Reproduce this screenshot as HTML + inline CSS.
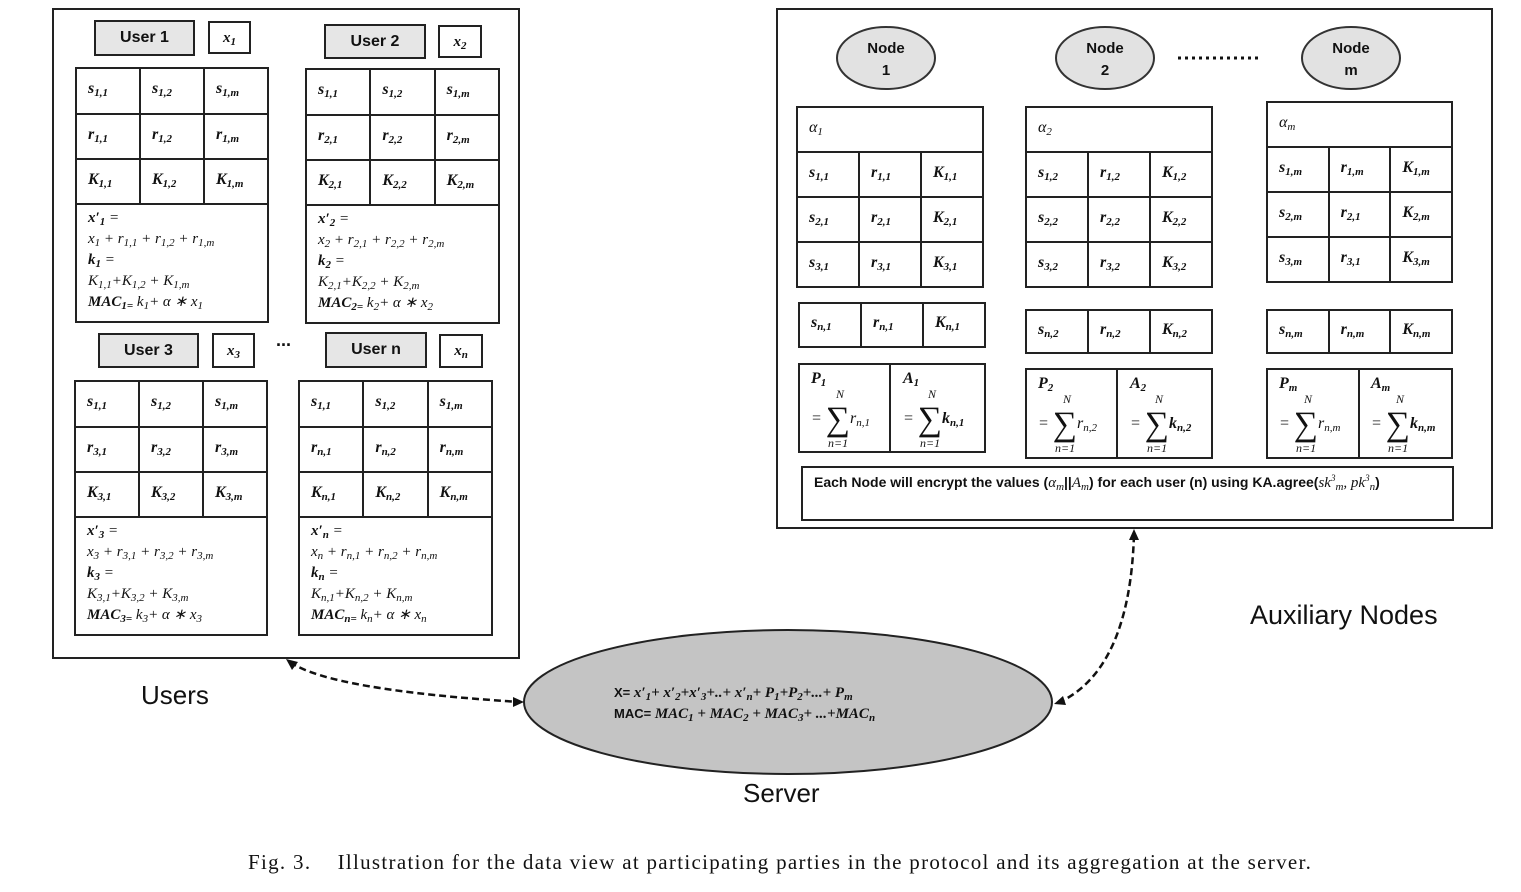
<!DOCTYPE html>
<html><head><meta charset="utf-8"><style>
body{margin:0;width:1521px;height:892px;background:#fff;position:relative;overflow:hidden;font-family:"Liberation Sans",sans-serif;color:#111}
.a{position:absolute;box-sizing:border-box}
.bx{position:absolute;box-sizing:border-box;border:2px solid #222}
.lab{background:#e6e6e6;font:bold 16px "Liberation Sans",sans-serif;text-align:center}
.xv{background:#fff;font:italic bold 15px "Liberation Serif",serif;text-align:center}
table{position:absolute;border-collapse:collapse;table-layout:fixed;background:#fff}
td{border:2px solid #222;padding:0 0 4px 11px;font:italic bold 16px "Liberation Serif",serif;text-align:left;vertical-align:middle;white-space:nowrap;overflow:hidden}
sub{font-size:11px;vertical-align:-3px;line-height:0}
sup{font-size:9px;line-height:0}
.f{font:italic 15px/21px "Liberation Serif",serif;vertical-align:top;padding:3px 0 0 11px}
.f b{font-weight:bold}
.n{font-weight:normal}
</style></head><body>

<!-- Left panel -->
<div class="bx" style="left:52px;top:8px;width:468px;height:651px"></div>
<div class="bx lab" style="left:94px;top:20px;width:101px;height:36px;line-height:32px">User 1</div>
<div class="bx xv" style="left:208px;top:21px;width:43px;height:33px;line-height:30px">x<sub>1</sub></div>
<div class="bx lab" style="left:324px;top:24px;width:102px;height:35px;line-height:31px">User 2</div>
<div class="bx xv" style="left:438px;top:25px;width:44px;height:33px;line-height:30px">x<sub>2</sub></div>

<table style="left:75px;top:67px;width:194px;height:254px">
<tr style="height:46px"><td>s<sub>1,1</sub></td><td>s<sub>1,2</sub></td><td>s<sub>1,m</sub></td></tr>
<tr style="height:45px"><td>r<sub>1,1</sub></td><td>r<sub>1,2</sub></td><td>r<sub>1,m</sub></td></tr>
<tr style="height:45px"><td>K<sub>1,1</sub></td><td>K<sub>1,2</sub></td><td>K<sub>1,m</sub></td></tr>
<tr style="height:118px"><td colspan="3" class="f"><b>x′<sub>1</sub></b> =<br>x<sub>1</sub> + r<sub>1,1</sub> + r<sub>1,2</sub> + r<sub>1,m</sub><br><b>k<sub>1</sub></b> =<br>K<sub>1,1</sub>+K<sub>1,2</sub> + K<sub>1,m</sub><br><b>MAC<sub>1=</sub></b> k<sub>1</sub>+ α ∗ x<sub>1</sub></td></tr>
</table>
<table style="left:305px;top:68px;width:195px;height:254px">
<tr style="height:46px"><td>s<sub>1,1</sub></td><td>s<sub>1,2</sub></td><td>s<sub>1,m</sub></td></tr>
<tr style="height:45px"><td>r<sub>2,1</sub></td><td>r<sub>2,2</sub></td><td>r<sub>2,m</sub></td></tr>
<tr style="height:45px"><td>K<sub>2,1</sub></td><td>K<sub>2,2</sub></td><td>K<sub>2,m</sub></td></tr>
<tr style="height:118px"><td colspan="3" class="f"><b>x′<sub>2</sub></b> =<br>x<sub>2</sub> + r<sub>2,1</sub> + r<sub>2,2</sub> + r<sub>2,m</sub><br><b>k<sub>2</sub></b> =<br>K<sub>2,1</sub>+K<sub>2,2</sub> + K<sub>2,m</sub><br><b>MAC<sub>2=</sub></b> k<sub>2</sub>+ α ∗ x<sub>2</sub></td></tr>
</table>

<div class="bx lab" style="left:98px;top:333px;width:101px;height:35px;line-height:31px">User 3</div>
<div class="bx xv" style="left:212px;top:333px;width:43px;height:35px;line-height:32px">x<sub>3</sub></div>
<div class="a" style="left:276px;top:330px;font:bold 18px 'Liberation Sans'">...</div>
<div class="bx lab" style="left:325px;top:332px;width:102px;height:36px;line-height:32px">User n</div>
<div class="bx xv" style="left:439px;top:334px;width:44px;height:34px;line-height:31px">x<sub>n</sub></div>

<table style="left:74px;top:380px;width:194px;height:254px">
<tr style="height:46px"><td>s<sub>1,1</sub></td><td>s<sub>1,2</sub></td><td>s<sub>1,m</sub></td></tr>
<tr style="height:45px"><td>r<sub>3,1</sub></td><td>r<sub>3,2</sub></td><td>r<sub>3,m</sub></td></tr>
<tr style="height:45px"><td>K<sub>3,1</sub></td><td>K<sub>3,2</sub></td><td>K<sub>3,m</sub></td></tr>
<tr style="height:118px"><td colspan="3" class="f"><b>x′<sub>3</sub></b> =<br>x<sub>3</sub> + r<sub>3,1</sub> + r<sub>3,2</sub> + r<sub>3,m</sub><br><b>k<sub>3</sub></b> =<br>K<sub>3,1</sub>+K<sub>3,2</sub> + K<sub>3,m</sub><br><b>MAC<sub>3=</sub></b> k<sub>3</sub>+ α ∗ x<sub>3</sub></td></tr>
</table>
<table style="left:298px;top:380px;width:195px;height:254px">
<tr style="height:46px"><td>s<sub>1,1</sub></td><td>s<sub>1,2</sub></td><td>s<sub>1,m</sub></td></tr>
<tr style="height:45px"><td>r<sub>n,1</sub></td><td>r<sub>n,2</sub></td><td>r<sub>n,m</sub></td></tr>
<tr style="height:45px"><td>K<sub>n,1</sub></td><td>K<sub>n,2</sub></td><td>K<sub>n,m</sub></td></tr>
<tr style="height:118px"><td colspan="3" class="f"><b>x′<sub>n</sub></b> =<br>x<sub>n</sub> + r<sub>n,1</sub> + r<sub>n,2</sub> + r<sub>n,m</sub><br><b>k<sub>n</sub></b> =<br>K<sub>n,1</sub>+K<sub>n,2</sub> + K<sub>n,m</sub><br><b>MAC<sub>n=</sub></b> k<sub>n</sub>+ α ∗ x<sub>n</sub></td></tr>
</table>

<div class="a" style="left:141px;top:680px;font:26px 'Liberation Sans'">Users</div>

<!-- Right panel -->
<div class="bx" style="left:776px;top:8px;width:717px;height:521px"></div>

<svg class="a" style="left:0;top:0" width="1521" height="892">
<g fill="#e2e2e2" stroke="#333" stroke-width="2">
<ellipse cx="886" cy="58" rx="49" ry="31"/>
<ellipse cx="1105" cy="58" rx="49" ry="31"/>
<ellipse cx="1351" cy="58" rx="49" ry="31"/>
</g>
<g font-family="Liberation Sans" font-weight="bold" font-size="15" text-anchor="middle" fill="#111">
<text x="886" y="53">Node</text><text x="886" y="75">1</text>
<text x="1105" y="53">Node</text><text x="1105" y="75">2</text>
<text x="1351" y="53">Node</text><text x="1351" y="75">m</text>
</g>
<line x1="1178" y1="58" x2="1262" y2="58" stroke="#111" stroke-width="3" stroke-dasharray="3 4"/>
<ellipse cx="788" cy="702" rx="264" ry="72" fill="#c4c4c4" stroke="#222" stroke-width="2"/>
<path d="M290 662 Q330 690 520 702" fill="none" stroke="#111" stroke-width="2.5" stroke-dasharray="7 4"/>
<polygon points="286,659 298,662 292,670" fill="#111"/>
<polygon points="524,702 513,697 513,707" fill="#111"/>
<path d="M1058 703 Q1130 670 1134 534" fill="none" stroke="#111" stroke-width="2.5" stroke-dasharray="7 4"/>
<polygon points="1134,529 1129,540 1139,540" fill="#111"/>
<polygon points="1054,704 1063,696 1066,705" fill="#111"/>
</svg>

<!-- Node tables -->
<table style="left:796px;top:106px;width:188px;height:182px">
<tr style="height:45px"><td colspan="3" class="n" style="font-style:italic">α<sub>1</sub></td></tr>
<tr style="height:45px"><td>s<sub>1,1</sub></td><td>r<sub>1,1</sub></td><td>K<sub>1,1</sub></td></tr>
<tr style="height:45px"><td>s<sub>2,1</sub></td><td>r<sub>2,1</sub></td><td>K<sub>2,1</sub></td></tr>
<tr><td>s<sub>3,1</sub></td><td>r<sub>3,1</sub></td><td>K<sub>3,1</sub></td></tr>
</table>
<table style="left:1025px;top:106px;width:188px;height:182px">
<tr style="height:45px"><td colspan="3" class="n" style="font-style:italic">α<sub>2</sub></td></tr>
<tr style="height:45px"><td>s<sub>1,2</sub></td><td>r<sub>1,2</sub></td><td>K<sub>1,2</sub></td></tr>
<tr style="height:45px"><td>s<sub>2,2</sub></td><td>r<sub>2,2</sub></td><td>K<sub>2,2</sub></td></tr>
<tr><td>s<sub>3,2</sub></td><td>r<sub>3,2</sub></td><td>K<sub>3,2</sub></td></tr>
</table>
<table style="left:1266px;top:101px;width:187px;height:182px">
<tr style="height:45px"><td colspan="3" class="n" style="font-style:italic">α<sub>m</sub></td></tr>
<tr style="height:45px"><td>s<sub>1,m</sub></td><td>r<sub>1,m</sub></td><td>K<sub>1,m</sub></td></tr>
<tr style="height:45px"><td>s<sub>2,m</sub></td><td>r<sub>2,1</sub></td><td>K<sub>2,m</sub></td></tr>
<tr><td>s<sub>3,m</sub></td><td>r<sub>3,1</sub></td><td>K<sub>3,m</sub></td></tr>
</table>

<table style="left:798px;top:302px;width:188px;height:46px"><tr><td>s<sub>n,1</sub></td><td>r<sub>n,1</sub></td><td>K<sub>n,1</sub></td></tr></table>
<table style="left:1025px;top:309px;width:188px;height:45px"><tr><td>s<sub>n,2</sub></td><td>r<sub>n,2</sub></td><td>K<sub>n,2</sub></td></tr></table>
<table style="left:1266px;top:309px;width:187px;height:45px"><tr><td>s<sub>n,m</sub></td><td>r<sub>n,m</sub></td><td>K<sub>n,m</sub></td></tr></table>

<!-- P/A boxes -->
<div class="bx" style="left:798px;top:363px;width:188px;height:90px"></div>
<div class="a" style="left:889px;top:363px;width:2px;height:90px;background:#222"></div>
<div class="bx" style="left:1025px;top:368px;width:188px;height:91px"></div>
<div class="a" style="left:1116px;top:368px;width:2px;height:91px;background:#222"></div>
<div class="bx" style="left:1266px;top:368px;width:187px;height:91px"></div>
<div class="a" style="left:1358px;top:368px;width:2px;height:91px;background:#222"></div>

<div style="font:italic 16px 'Liberation Serif',serif">
<div class="a" style="left:811px;top:370px"><b>P<sub>1</sub></b></div>
<div class="a" style="left:903px;top:370px"><b>A<sub>1</sub></b></div>
<div class="a" style="left:1038px;top:375px"><b>P<sub>2</sub></b></div>
<div class="a" style="left:1130px;top:375px"><b>A<sub>2</sub></b></div>
<div class="a" style="left:1279px;top:375px"><b>P<sub>m</sub></b></div>
<div class="a" style="left:1371px;top:375px"><b>A<sub>m</sub></b></div>

<div class="a" style="left:811px;top:388px;line-height:12px;font-size:12px"><span style="position:absolute;left:25px;top:0">N</span><span style="position:absolute;left:0;top:25px;font-size:16px;white-space:nowrap">= <span style="font-size:34px;font-style:normal;vertical-align:-7px">∑</span>r<sub>n,1</sub></span><span style="position:absolute;left:17px;top:49px;white-space:nowrap">n=1</span></div>
<div class="a" style="left:903px;top:388px;line-height:12px;font-size:12px"><span style="position:absolute;left:25px;top:0">N</span><span style="position:absolute;left:0;top:25px;font-size:16px;white-space:nowrap">= <span style="font-size:34px;font-style:normal;vertical-align:-7px">∑</span><b>k<sub>n,1</sub></b></span><span style="position:absolute;left:17px;top:49px;white-space:nowrap">n=1</span></div>
<div class="a" style="left:1038px;top:393px;line-height:12px;font-size:12px"><span style="position:absolute;left:25px;top:0">N</span><span style="position:absolute;left:0;top:25px;font-size:16px;white-space:nowrap">= <span style="font-size:34px;font-style:normal;vertical-align:-7px">∑</span>r<sub>n,2</sub></span><span style="position:absolute;left:17px;top:49px;white-space:nowrap">n=1</span></div>
<div class="a" style="left:1130px;top:393px;line-height:12px;font-size:12px"><span style="position:absolute;left:25px;top:0">N</span><span style="position:absolute;left:0;top:25px;font-size:16px;white-space:nowrap">= <span style="font-size:34px;font-style:normal;vertical-align:-7px">∑</span><b>k<sub>n,2</sub></b></span><span style="position:absolute;left:17px;top:49px;white-space:nowrap">n=1</span></div>
<div class="a" style="left:1279px;top:393px;line-height:12px;font-size:12px"><span style="position:absolute;left:25px;top:0">N</span><span style="position:absolute;left:0;top:25px;font-size:16px;white-space:nowrap">= <span style="font-size:34px;font-style:normal;vertical-align:-7px">∑</span>r<sub>n,m</sub></span><span style="position:absolute;left:17px;top:49px;white-space:nowrap">n=1</span></div>
<div class="a" style="left:1371px;top:393px;line-height:12px;font-size:12px"><span style="position:absolute;left:25px;top:0">N</span><span style="position:absolute;left:0;top:25px;font-size:16px;white-space:nowrap">= <span style="font-size:34px;font-style:normal;vertical-align:-7px">∑</span><b>k<sub>n,m</sub></b></span><span style="position:absolute;left:17px;top:49px;white-space:nowrap">n=1</span></div>
</div>

<div class="bx" style="left:801px;top:466px;width:653px;height:55px"></div>
<div class="a" style="left:814px;top:474px;font:bold 14px 'Liberation Sans',sans-serif;white-space:nowrap">Each Node will encrypt the values (<i style="font:italic 15px 'Liberation Serif'">α<sub>m</sub></i>||<i style="font:italic 15px 'Liberation Serif'">A<sub>m</sub></i>) for each user (n) using KA.agree(<i style="font:italic 15px 'Liberation Serif';font-weight:normal">sk<sup>3</sup><sub>m</sub>, pk<sup>3</sup><sub>n</sub></i>)</div>

<div class="a" style="left:1250px;top:600px;font:27px 'Liberation Sans',sans-serif">Auxiliary Nodes</div>

<!-- Server text -->
<div class="a" style="left:614px;top:682px;font:bold 13px/21px 'Liberation Sans',sans-serif;white-space:nowrap">
X= <i style="font:italic bold 15px 'Liberation Serif'">x′<sub>1</sub>+ x′<sub>2</sub>+x′<sub>3</sub>+..+ x′<sub>n</sub>+ P<sub>1</sub>+P<sub>2</sub>+...+ P<sub>m</sub></i><br>
MAC= <i style="font:italic bold 15px 'Liberation Serif'">MAC<sub>1</sub> + MAC<sub>2</sub> + MAC<sub>3</sub>+ ...+MAC<sub>n</sub></i></div>
<div class="a" style="left:743px;top:778px;font:26px 'Liberation Sans',sans-serif">Server</div>

<div class="a" style="left:248px;top:850px;font:21px 'Liberation Serif',serif;letter-spacing:1.3px;white-space:nowrap">Fig. 3.&nbsp;&nbsp;&nbsp; Illustration for the data view at participating parties in the protocol and its aggregation at the server.</div>
</body></html>
